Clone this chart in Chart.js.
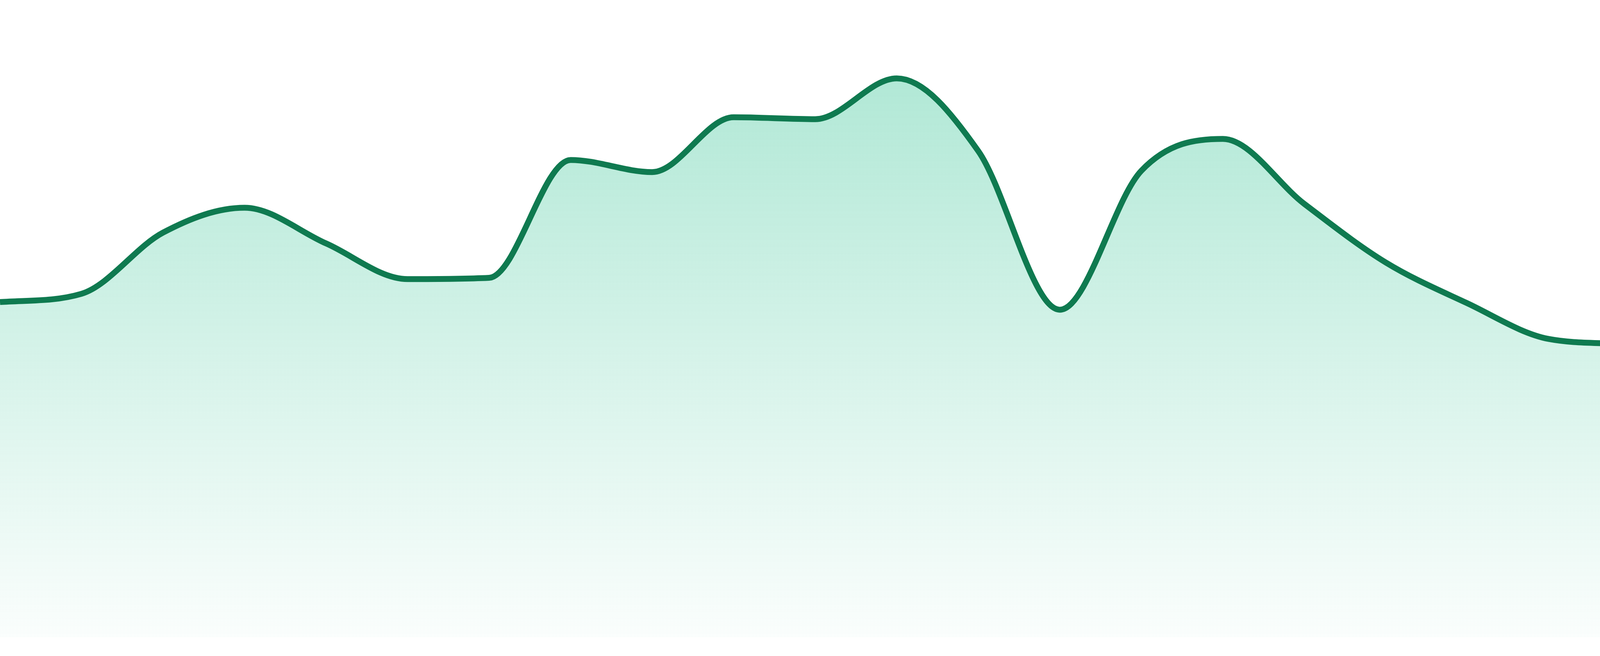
<!DOCTYPE html>
<html>
<head>
<meta charset="utf-8">
<title>Area trend</title>
<script src="https://cdn.jsdelivr.net/npm/chart.js@4.4.1/dist/chart.umd.min.js"></script>
<style>
    html, body { margin: 0; padding: 0; background: #ffffff; }
    #wrap { width: 4800px; height: 1680px; position: relative; }
</style>
</head>
<body>
<div id="wrap"><canvas id="trend-chart"></canvas></div>
<script>
// Values (0 = chart bottom, 100 = chart top)
const labels = ['P1', 'P2', 'P3', 'P4', 'P5', 'P6', 'P7', 'P8', 'P9', 'P10', 'P11', 'P12',
    'P13', 'P14', 'P15', 'P16', 'P17', 'P18', 'P19', 'P20', 'P21', 'P22', 'P23', 'P24'];
const values = [52.6, 53.9, 63.5, 67.4, 61.8, 56.2, 56.4, 74.9, 73.0, 81.6, 81.3, 87.7,
    76.3, 51.4, 73.2, 78.2, 68.0, 58.8, 52.4, 46.8, 45.9, 43.5, 42.4, 43.0];
const yMin = 0;
const yMax = 100;

const lineColor = '#0f7a50';

// Vertical fade under the line
function areaFill(context) {
    const chart = context.chart;
    const area = chart.chartArea;
    if (!area) return 'rgba(16, 185, 129, 0.2)';
    const g = chart.ctx.createLinearGradient(0, area.top, 0, area.bottom);
    g.addColorStop(0, 'rgba(16, 185, 129, 0.37)');
    g.addColorStop(1, 'rgba(16, 185, 129, 0.02)');
    return g;
}

const ctx = document.getElementById('trend-chart').getContext('2d');
const chart = new Chart(ctx, {
    type: 'line',
    data: {
        labels: labels,
        datasets: [{
            data: values,
            borderColor: lineColor,
            borderWidth: 15,
            backgroundColor: areaFill,
            fill: 'start',
            cubicInterpolationMode: 'monotone',
            pointRadius: 0,
            pointHoverRadius: 0
        }]
    },
    options: {
        responsive: true,
        maintainAspectRatio: false,
        devicePixelRatio: 1,
        animation: false,
        layout: { padding: { top: 0, left: 0, right: 0, bottom: 48 } },
        plugins: {
            legend: { display: false },
            tooltip: { enabled: false }
        },
        scales: {
            x: { display: false, offset: false },
            y: { display: false, min: yMin, max: yMax }
        }
    }
});
</script>
</body>
</html>
